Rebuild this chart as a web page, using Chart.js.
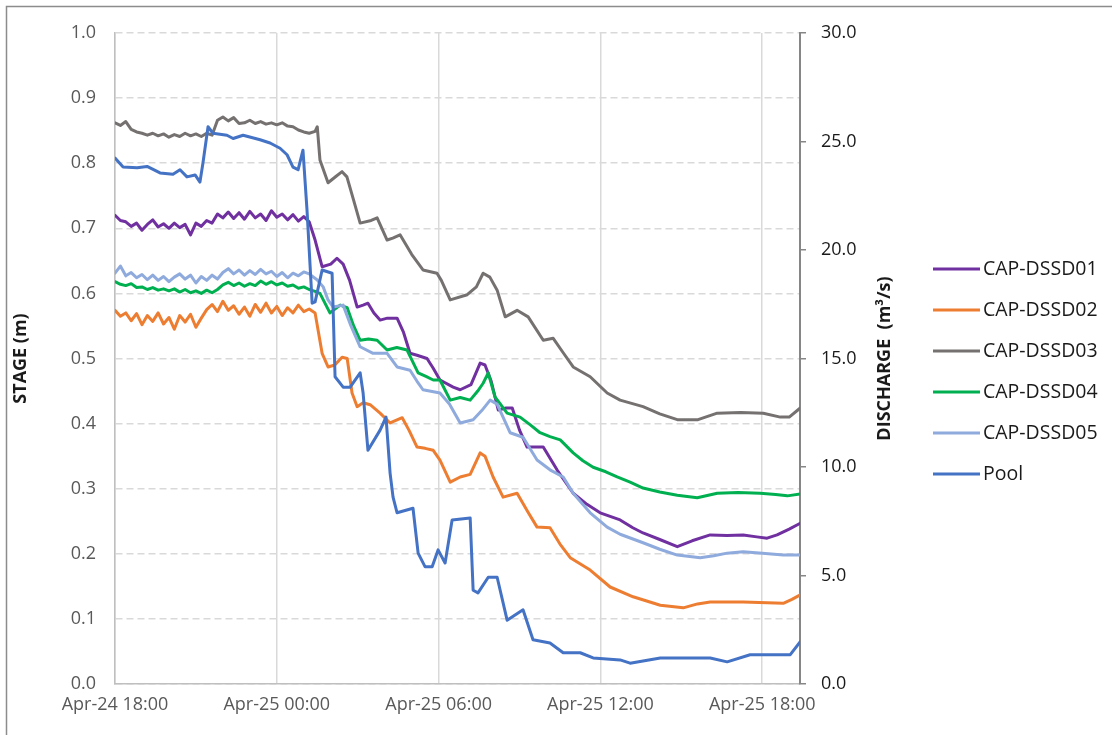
<!DOCTYPE html>
<html>
<head>
<meta charset="utf-8">
<script src="https://cdn.jsdelivr.net/npm/chart.js@4"></script>
<style>
  html, body { margin: 0; padding: 0; background: #fff; }
  #chart { display: block; }
</style>
</head>
<body>
<canvas id="chart" width="1112" height="735"></canvas>
<script>
// hours after Apr-24 18:00, stage in m
let xTickLabels = ["Apr-24 18:00", "Apr-25 00:00", "Apr-25 06:00", "Apr-25 12:00", "Apr-25 18:00"];
let seriesNames = ["CAP-DSSD01", "CAP-DSSD02", "CAP-DSSD03", "CAP-DSSD04", "CAP-DSSD05", "Pool"];
let seriesColors = ["#7030a0", "#ed7d31", "#767171", "#00b050", "#8faadc", "#4472c4"];

let earlyHours = [0, 0.2, 0.4, 0.6, 0.8, 1.0, 1.2, 1.4, 1.6, 1.8, 2.0, 2.2, 2.4, 2.6, 2.8, 3.0, 3.2, 3.4, 3.6, 3.8,
    4.0, 4.2, 4.4, 4.6, 4.8, 5.0, 5.2, 5.4, 5.6, 5.8, 6.0, 6.2, 6.4, 6.6, 6.8, 7.0, 7.2];

let dssd01Hours = earlyHours.concat([7.42, 7.68, 8.0, 8.23, 8.46, 8.7, 8.98, 9.2, 9.38, 9.6, 9.83, 10.1, 10.46, 10.7, 10.94, 11.2,
    11.57, 11.8, 12.05, 12.54, 12.8, 13.2, 13.54, 13.72, 13.95, 14.21, 14.5, 14.73, 15.0, 15.28, 15.88, 16.39, 16.99, 17.5,
    17.99, 18.73, 19.2, 19.58, 20.2, 20.85, 21.4, 22.07, 22.7, 23.29, 23.8, 24.18, 24.55, 25.0, 25.41]);
let dssd01 = [0.720, 0.712, 0.710, 0.703, 0.708, 0.697, 0.706, 0.713, 0.702, 0.707, 0.700, 0.708, 0.701, 0.706, 0.690, 0.708,
    0.703, 0.712, 0.708, 0.722, 0.716, 0.725, 0.715, 0.724, 0.714, 0.726, 0.716, 0.722, 0.712, 0.727, 0.717, 0.722, 0.713,
    0.721, 0.711, 0.718, 0.710,
    0.682, 0.641, 0.645, 0.654, 0.645, 0.620, 0.579, 0.582, 0.585, 0.570, 0.559, 0.562, 0.562, 0.540, 0.508, 0.505,
    0.500, 0.485, 0.467, 0.456, 0.452, 0.460, 0.493, 0.490, 0.465, 0.421, 0.424, 0.424, 0.390, 0.364, 0.364, 0.329, 0.293, 0.276,
    0.263, 0.252, 0.240, 0.232, 0.222, 0.211, 0.220, 0.229, 0.228, 0.229, 0.226, 0.224, 0.229, 0.238, 0.247];

let dssd02Hours = earlyHours.concat([7.42, 7.68, 7.9, 8.15, 8.42, 8.61, 8.79, 8.98, 9.2, 9.46, 9.83, 10.2, 10.65, 10.9, 11.2,
    11.5, 11.8, 12.05, 12.43, 12.8, 13.17, 13.54, 13.72, 14.02, 14.39, 14.91, 15.3, 15.65, 16.13, 16.5, 16.88, 17.62, 18.36,
    19.21, 20.22, 21.07, 21.6, 22.07, 23.29, 24.78, 25.1, 25.41]);
let dssd02 = [0.574, 0.565, 0.570, 0.558, 0.569, 0.552, 0.566, 0.557, 0.570, 0.553, 0.563, 0.545, 0.566, 0.556, 0.568, 0.548,
    0.562, 0.575, 0.583, 0.572, 0.588, 0.574, 0.581, 0.568, 0.579, 0.565, 0.583, 0.571, 0.585, 0.570, 0.580, 0.566, 0.578,
    0.570, 0.582, 0.572, 0.576,
    0.570, 0.508, 0.487, 0.490, 0.502, 0.500, 0.447, 0.426, 0.432, 0.429, 0.416, 0.401, 0.409, 0.390, 0.364,
    0.362, 0.359, 0.344, 0.310, 0.318, 0.322, 0.355, 0.350, 0.318, 0.287, 0.293, 0.265, 0.241, 0.240, 0.215, 0.194, 0.175, 0.149,
    0.134, 0.121, 0.117, 0.123, 0.126, 0.126, 0.124, 0.130, 0.137];

let dssd03Hours = earlyHours.concat([7.42, 7.5, 7.6, 7.9, 8.2, 8.42, 8.6, 8.85, 9.09, 9.5, 9.72, 10.09, 10.3, 10.57, 11.0, 11.42,
    11.94, 12.1, 12.43, 13.06, 13.4, 13.65, 13.9, 14.17, 14.47, 14.91, 15.32, 15.88, 16.25, 16.6, 16.99, 17.62, 18.25, 18.73,
    19.58, 20.2, 20.85, 21.62, 22.33, 23.2, 24.04, 24.67, 25.0, 25.41]);
let dssd03 = [0.862, 0.858, 0.864, 0.852, 0.848, 0.846, 0.843, 0.846, 0.842, 0.845, 0.840, 0.844, 0.841, 0.846, 0.842, 0.845,
    0.841, 0.846, 0.843, 0.866, 0.871, 0.865, 0.870, 0.861, 0.862, 0.866, 0.861, 0.864, 0.860, 0.862, 0.859, 0.862, 0.857,
    0.856, 0.851, 0.848, 0.846,
    0.849, 0.856, 0.805, 0.770, 0.780, 0.787, 0.779, 0.743, 0.708, 0.712, 0.716, 0.682, 0.685, 0.690, 0.660, 0.636,
    0.631, 0.620, 0.590, 0.598, 0.610, 0.631, 0.625, 0.605, 0.564, 0.574, 0.564, 0.528, 0.531, 0.510, 0.487, 0.472, 0.447, 0.436,
    0.426, 0.415, 0.406, 0.406, 0.416, 0.417, 0.416, 0.410, 0.410, 0.424];

let dssd04Hours = earlyHours.concat([7.42, 7.6, 7.97, 8.35, 8.61, 8.85, 9.09, 9.4, 9.72, 10.09, 10.45, 10.83, 11.24, 11.55, 11.8,
    12.05, 12.43, 12.8, 13.17, 13.45, 13.65, 13.84, 14.09, 14.54, 15.02, 15.4, 15.76, 16.13, 16.51, 16.99, 17.35, 17.73, 18.2,
    18.62, 19.1, 19.58, 20.2, 20.85, 21.59, 22.33, 23.1, 23.92, 24.5, 24.93, 25.41]);
let dssd04 = [0.618, 0.614, 0.612, 0.615, 0.609, 0.610, 0.606, 0.609, 0.605, 0.607, 0.604, 0.607, 0.602, 0.606, 0.601, 0.604,
    0.600, 0.605, 0.601, 0.606, 0.613, 0.617, 0.612, 0.616, 0.611, 0.615, 0.612, 0.619, 0.614, 0.618, 0.613, 0.616, 0.611,
    0.613, 0.608, 0.610, 0.606,
    0.603, 0.600, 0.570, 0.582, 0.578, 0.550, 0.528, 0.530, 0.528, 0.513, 0.517, 0.513, 0.478, 0.472, 0.467,
    0.467, 0.436, 0.440, 0.436, 0.450, 0.462, 0.478, 0.441, 0.416, 0.410, 0.398, 0.386, 0.380, 0.375, 0.355, 0.343, 0.333, 0.326,
    0.318, 0.310, 0.301, 0.295, 0.290, 0.286, 0.293, 0.294, 0.293, 0.291, 0.289, 0.292];

let dssd05Hours = earlyHours.concat([7.49, 7.72, 7.9, 8.09, 8.46, 8.75, 9.09, 9.57, 10.09, 10.46, 10.94, 11.2, 11.42, 12.05, 12.4,
    12.8, 13.28, 13.6, 13.91, 14.17, 14.65, 15.13, 15.65, 16.13, 16.62, 16.99, 17.62, 18.25, 18.73, 19.58, 20.2, 20.85, 21.7,
    22.2, 22.7, 23.29, 24.0, 24.78, 25.41]);
let dssd05 = [0.631, 0.642, 0.627, 0.632, 0.624, 0.629, 0.621, 0.628, 0.620, 0.626, 0.618, 0.625, 0.630, 0.622, 0.628, 0.616,
    0.626, 0.620, 0.628, 0.622, 0.632, 0.638, 0.630, 0.636, 0.628, 0.635, 0.629, 0.637, 0.630, 0.634, 0.626, 0.632, 0.624,
    0.631, 0.627, 0.633, 0.630,
    0.621, 0.610, 0.590, 0.579, 0.582, 0.550, 0.518, 0.508, 0.508, 0.487, 0.482, 0.465, 0.452, 0.447, 0.430,
    0.401, 0.406, 0.420, 0.436, 0.430, 0.386, 0.379, 0.344, 0.329, 0.318, 0.293, 0.263, 0.241, 0.230, 0.217, 0.207, 0.198, 0.194,
    0.197, 0.201, 0.203, 0.201, 0.198, 0.198];

let poolHours = [0, 0.3, 0.82, 1.19, 1.67, 2.15, 2.41, 2.67, 2.97, 3.15, 3.26, 3.45, 3.63, 4.15, 4.38, 4.75, 5.38, 5.75, 6.12,
    6.38, 6.6, 6.79, 6.97, 7.12, 7.31, 7.42, 7.68, 8.05, 8.16, 8.46, 8.72, 9.09, 9.2, 9.38, 9.83, 10.05, 10.2, 10.31, 10.46,
    11.05, 11.24, 11.5, 11.76, 11.98, 12.24, 12.5, 13.17, 13.28, 13.46, 13.84, 14.17, 14.54, 15.13, 15.5, 16.13, 16.62, 17.25,
    17.73, 18.73, 19.1, 20.22, 22.07, 22.7, 23.55, 25.04, 25.41];
let pool = [0.808, 0.794, 0.793, 0.795, 0.785, 0.783, 0.790, 0.779, 0.782, 0.771, 0.800, 0.856, 0.846, 0.843, 0.838, 0.843,
    0.836, 0.831, 0.823, 0.813, 0.794, 0.790, 0.820, 0.728, 0.585, 0.587, 0.636, 0.631, 0.472, 0.456, 0.456, 0.478, 0.447,
    0.359, 0.390, 0.410, 0.324, 0.287, 0.263, 0.270, 0.201, 0.180, 0.180, 0.206, 0.186, 0.252, 0.255, 0.144, 0.140, 0.164,
    0.164, 0.098, 0.114, 0.068, 0.063, 0.048, 0.048, 0.040, 0.037, 0.032, 0.040, 0.040, 0.034, 0.045, 0.045, 0.065];

let allHours = [dssd01Hours, dssd02Hours, dssd03Hours, dssd04Hours, dssd05Hours, poolHours];
let allValues = [dssd01, dssd02, dssd03, dssd04, dssd05, pool];

Chart.defaults.font.family = "'Open Sans', sans-serif";
Chart.defaults.font.size = 18;

function makeDataset(i) {
    return {
        label: seriesNames[i],
        data: allHours[i].map((h, j) => ({x: h, y: allValues[i][j]})),
        borderColor: seriesColors[i],
        backgroundColor: seriesColors[i],
        borderWidth: 3,
        pointRadius: 0,
        tension: 0,
        borderJoinStyle: "round",
        borderCapStyle: "round",
        order: seriesNames.length - i
    };
}

let framePlugin = {
    id: "frame",
    beforeDraw(chart) {
        let ctx = chart.ctx;
        ctx.save();
        ctx.fillStyle = "#ffffff";
        ctx.fillRect(0, 0, chart.width, chart.height);
        ctx.strokeStyle = "#8c8c8c";
        ctx.lineWidth = 1.5;
        ctx.strokeRect(6.5, 6.5, chart.width + 20, chart.height + 20);
        ctx.restore();
    },
    afterDraw(chart) {
        let ctx = chart.ctx, area = chart.chartArea;
        let midY = (area.top + area.bottom) / 2;
        ctx.save();
        // right axis title reads bottom to top like the left one
        ctx.translate(area.right + 85, midY);
        ctx.rotate(-Math.PI / 2);
        ctx.font = "bold 18px 'Open Sans', sans-serif";
        ctx.fillStyle = "#1a1a1a";
        ctx.textAlign = "center";
        ctx.textBaseline = "middle";
        ctx.fillText("DISCHARGE  (m\u00b3/s)", 0, 0);
        ctx.restore();

        ctx.save();
        ctx.font = "19.5px 'Open Sans', sans-serif";
        ctx.textBaseline = "middle";
        ctx.textAlign = "left";
        chart.data.datasets.forEach((ds, i) => {
            let y = midY + 13 + (i - 2.5) * 41;
            let x = area.right + 133;
            ctx.strokeStyle = ds.borderColor;
            ctx.lineWidth = 3;
            ctx.beginPath();
            ctx.moveTo(x, y);
            ctx.lineTo(x + 47, y);
            ctx.stroke();
            ctx.fillStyle = "#1a1a1a";
            ctx.fillText(ds.label, x + 50, y);
        });
        ctx.restore();
    }
};

new Chart(document.getElementById("chart"), {
    type: "line",
    data: {
        datasets: seriesNames.map((n, i) => makeDataset(i))
    },
    options: {
        responsive: false,
        animation: false,
        devicePixelRatio: 1,
        layout: {
            padding: {left: 8, top: 33, right: 222, bottom: 11}
        },
        plugins: {
            legend: {display: false},
            tooltip: {enabled: false}
        },
        scales: {
            x: {
                type: "linear",
                min: 0,
                max: 25.4,
                afterFit: scale => { scale.height = 40; },
                ticks: {
                    stepSize: 6,
                    includeBounds: false,
                    maxRotation: 0,
                    padding: 10,
                    color: "#595959",
                    callback: v => xTickLabels[v / 6]
                },
                grid: {color: "#d9d9d9", lineWidth: 1.5, drawTicks: false},
                border: {color: "#bfbfbf", width: 1.5}
            },
            y: {
                position: "left",
                min: 0,
                max: 1,
                afterFit: scale => { scale.width = 107; },
                ticks: {
                    stepSize: 0.1,
                    padding: 19,
                    color: "#595959",
                    callback: v => v.toFixed(1)
                },
                grid: {color: "#d9d9d9", lineWidth: 1.5, drawTicks: false},
                border: {color: "#bfbfbf", width: 1.5, dash: [7, 4]},
                title: {
                    display: true,
                    text: "STAGE (m)",
                    color: "#1a1a1a",
                    font: {size: 18, weight: "bold"},
                    padding: {top: 2, bottom: 0}
                }
            },
            y1: {
                position: "right",
                min: 0,
                max: 30,
                afterFit: scale => { scale.width = 90; },
                ticks: {
                    stepSize: 5,
                    padding: 15,
                    color: "#1a1a1a",
                    callback: v => v.toFixed(1)
                },
                grid: {drawOnChartArea: false, drawTicks: true, tickLength: 6, color: "#868686", lineWidth: 1.5},
                border: {color: "#868686", width: 2}
            }
        }
    },
    plugins: [framePlugin]
});
</script>
</body>
</html>
